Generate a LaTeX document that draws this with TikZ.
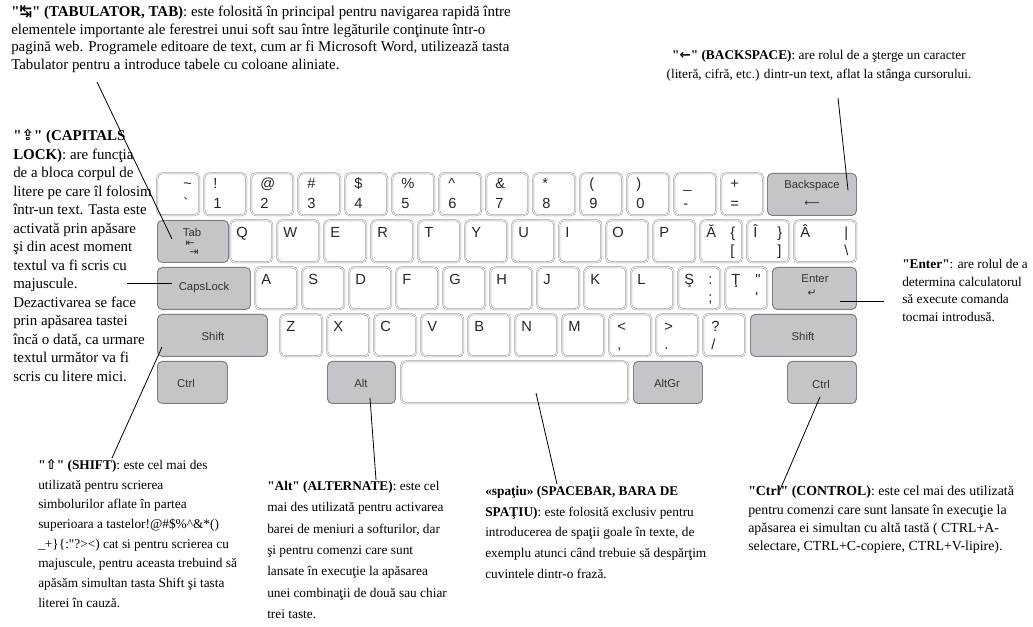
\documentclass[tikz,border=0pt]{standalone}
\usepackage{fontspec}
\setmainfont{Liberation Serif}
\newfontfamily\keyfont{Liberation Sans}
\newfontfamily\symfont{DejaVu Sans}
\definecolor{keygray}{RGB}{196,196,201}
\definecolor{keyedge}{RGB}{125,125,130}
\definecolor{wedge}{RGB}{150,150,150}
\newcommand\qq{\textquotedbl}
\tikzset{
  keybase/.style={rectangle, rounded corners=3.5pt, anchor=north west, inner sep=0pt, minimum height=31.5pt},
  wkey/.style={keybase, minimum width=#1*0.75pt, fill=white, draw=wedge, double=white, double distance=0.6pt, line width=0.4pt},
  wkey/.default=42,
  gkey/.style={keybase, minimum width=#1*0.75pt, fill=keygray, draw=keyedge, line width=0.7pt},
  klab/.style={anchor=base west, inner sep=0pt, font=\keyfont\fontsize{11}{12}\selectfont, text=black!85},
  glab/.style={inner sep=0pt, font=\keyfont\fontsize{8.5}{9}\selectfont, text=black!80},
  glabsym/.style={inner sep=0pt, font=\symfont\fontsize{8}{8}\selectfont, text=black!80},
  desc/.style={anchor=north west, inner sep=0pt, align=left, font=\fontsize{10}{14}\selectfont},
  conn/.style={draw=black, line width=0.6pt},
}
\newcommand\kbnum[5][9]{\node[wkey] (#2) at (#3,173) {};
  \node[klab] (#2-u) at (#3+#1,188.5) {#4};
  \node[klab] (#2-l) at (#3+#1,209) {#5};}
\newcommand\kblet[4]{\node[wkey] (#1) at (#2,#3) {};
  \node[klab] (#1-u) at (#2+6,#3+17.5) {#4};}
\newcommand\kbdual[7]{\node[wkey=#4] (#1) at (#2,#3) {};
  \node[klab] (#1-u) at (#2+6,#3+17.5) {#5};
  \node[klab] (#1-r) at (#2+#4-12,#3+17.5) {#6};
  \node[klab] (#1-l) at (#2+#4-12,#3+36) {#7};}
\newcommand\kbsym[5]{\node[wkey] (#1) at (#2,#3) {};
  \node[klab] (#1-u) at (#2+8,#3+17.5) {#4};
  \node[klab] (#1-l) at (#2+8,#3+36) {#5};}
\begin{document}
\begin{tikzpicture}[x=0.75pt,y=-0.75pt]
\useasboundingbox (0,0) rectangle (1033,627);
\fill[white] (0,0) rectangle (1033,627);

% ---- row 1
\kbnum[26]{k1a}{157}{\textasciitilde}{\textasciigrave}
\kbnum{k1b}{204}{!}{1}
\kbnum{k1c}{251}{@}{2}
\kbnum{k1d}{298}{\#}{3}
\kbnum{k1e}{345}{\$}{4}
\kbnum{k1f}{392}{\%}{5}
\kbnum{k1g}{439}{\textasciicircum}{6}
\kbnum{k1h}{486}{\&}{7}
\kbnum{k1i}{533}{*}{8}
\kbnum{k1j}{580}{(}{9}
\kbnum{k1k}{627}{)}{0}
\kbnum{k1l}{674}{\_}{-}
\kbnum{k1m}{721}{+}{=}
\node[gkey=89] (bksp) at (767,173) {};
\node[glab] (bksp-t) at (812,186) {Backspace};
\node[glabsym] (bksp-a) at (812,204) {⟵};

% ---- row 2
\node[gkey=71] (tab) at (157,220) {};
\node[glab] (tab-t) at (192,232) {Tab};
\node[glabsym] (tab-a) at (190,244) {⇤};
\node[glabsym] (tab-b) at (194,253) {⇥};
\kblet{kq}{230}{220}{Q}
\kblet{kw}{277}{220}{W}
\kblet{ke}{324}{220}{E}
\kblet{kr}{371}{220}{R}
\kblet{kt}{418}{220}{T}
\kblet{ky}{465}{220}{Y}
\kblet{ku}{512}{220}{U}
\kblet{ki}{559}{220}{I}
\kblet{ko}{606}{220}{O}
\kblet{kp}{653}{220}{P}
\kbdual{kab}{700}{220}{42}{Ă}{\{}{[}
\kbdual{kic}{747}{220}{42}{Î}{\}}{]}
\kbdual{kac}{794}{220}{62}{Â}{|}{\textbackslash}

% ---- row 3
\node[gkey=93] (caps) at (157,267) {};
\node[glab] (caps-t) at (204,288) {CapsLock};
\kblet{ka}{255}{267}{A}
\kblet{ks}{302}{267}{S}
\kblet{kd}{349}{267}{D}
\kblet{kf}{396}{267}{F}
\kblet{kg}{443}{267}{G}
\kblet{kh}{490}{267}{H}
\kblet{kj}{537}{267}{J}
\kblet{kk}{584}{267}{K}
\kblet{kl}{631}{267}{L}
\kbdual{ksc}{678}{267}{42}{Ş}{:}{;}
\kbdual{ktc}{725}{267}{42}{Ţ}{\qq}{\textquotesingle}
\node[gkey=84] (enter) at (772,267) {};
\node[glab] (enter-t) at (815,279) {Enter};
\node[glabsym] (enter-a) at (812,293) {↵};

% ---- row 4
\node[gkey=110] (lshift) at (157,314) {};
\node[glab] (lshift-t) at (213,336) {Shift};
\kblet{kz}{280}{314}{Z}
\kblet{kx}{327}{314}{X}
\kblet{kc}{374}{314}{C}
\kblet{kv}{421}{314}{V}
\kblet{kb}{468}{314}{B}
\kblet{kn}{515}{314}{N}
\kblet{km}{562}{314}{M}
\kbsym{klt}{609}{314}{<}{,}
\kbsym{kgt}{656}{314}{>}{.}
\kbsym{kqm}{703}{314}{?}{/}
\node[gkey=106] (rshift) at (750,314) {};
\node[glab] (rshift-t) at (803,336) {Shift};

% ---- row 5
\node[gkey=70] (lctrl) at (157,361) {};
\node[glab] (lctrl-t) at (186,383) {Ctrl};
\node[gkey=68] (alt) at (327,361) {};
\node[glab] (alt-t) at (361,383) {Alt};
\node[wkey=227] (space) at (401,361) {};
\node[gkey=69] (altgr) at (633,361) {};
\node[glab] (altgr-t) at (667,383) {AltGr};
\node[gkey=69] (rctrl) at (787,361) {};
\node[glab] (rctrl-t) at (821,384) {Ctrl};

% ---- descriptions
\node[desc, font=\fontsize{11.2}{13.4}\selectfont] (ttab) at (11,5) {\textbf{\qq{\symfont ↹}\qq{} (TABULATOR, TAB)}: este folosită în principal pentru navigarea rapidă între\\
elementele importante ale ferestrei unui soft sau între legăturile conţinute într-o\\
pagină web. Programele editoare de text, cum ar fi Microsoft Word, utilizează tasta\\
Tabulator pentru a introduce tabele cu coloane aliniate.};

\node[desc, anchor=north, align=center] (tbksp) at (819,50) {\textbf{\qq{\symfont ←}\qq{} (BACKSPACE)}: are rolul de a şterge un caracter\\
(literă, cifră, etc.) dintr-un text, aflat la stânga cursorului.};

\node[desc, font=\fontsize{11.2}{13.9}\selectfont] (tcaps) at (13,129) {\textbf{\qq{\symfont ⇪}\qq{} (CAPITALS}\\
\textbf{LOCK)}: are funcţia\\
de a bloca corpul de\\
litere pe care îl folosim\\
într-un text. Tasta este\\
activată prin apăsare\\
şi din acest moment\\
textul va fi scris cu\\
majuscule.\\
Dezactivarea se face\\
prin apăsarea tastei\\
încă o dată, ca urmare\\
textul următor va fi\\
scris cu litere mici.};

\node[desc, font=\fontsize{10}{13.2}\selectfont] (tenter) at (902,259) {\textbf{\qq{}Enter\qq}: are rolul de a\\
determina calculatorul\\
să execute comanda\\
tocmai introdusă.};

\node[desc, font=\fontsize{10}{14.8}\selectfont] (tshift) at (38,459) {\textbf{\qq{\symfont ⇧}\qq{} (SHIFT)}: este cel mai des\\
utilizată pentru scrierea\\
simbolurilor aflate în partea\\
superioara a tastelor!@\#\$\%\textasciicircum\&*()\\
\_+\}\{:\qq?><) cat si pentru scrierea cu\\
majuscule, pentru aceasta trebuind să\\
apăsăm simultan tasta Shift şi tasta\\
literei în cauză.};

\node[desc, font=\fontsize{10}{16}\selectfont] (talt) at (267,481) {\textbf{\qq{}Alt\qq{} (ALTERNATE)}: este cel\\
mai des utilizată pentru activarea\\
barei de meniuri a softurilor, dar\\
şi pentru comenzi care sunt\\
lansate în execuţie la apăsarea\\
unei combinaţii de două sau chiar\\
trei taste.};

\node[desc, font=\fontsize{10}{15.5}\selectfont] (tspace) at (485,486) {\textbf{«spaţiu» (SPACEBAR, BARA DE}\\
\textbf{SPAŢIU)}: este folosită exclusiv pentru\\
introducerea de spaţii goale în texte, de\\
exemplu atunci când trebuie să despărţim\\
cuvintele dintr-o frază.};

\node[desc, font=\fontsize{10.4}{13.6}\selectfont] (tctrl) at (748,486) {\textbf{\qq{}Ctrl\qq{} (CONTROL)}: este cel mai des utilizată\\
pentru comenzi care sunt lansate în execuţie la\\
apăsarea ei simultan cu altă tastă ( CTRL+A-\\
selectare, CTRL+C-copiere, CTRL+V-lipire).};

% ---- connectors
\coordinate (ctab) at (97,82);
\draw[conn] (ctab) -- ([shift={(15,19)}]tab.north west);
\coordinate (cbk) at (838,98);
\draw[conn] (cbk) -- ([shift={(81,17)}]bksp.north west);
\coordinate (ccaps) at (127,283);
\draw[conn] (ccaps) -- ([shift={(15,16)}]caps.north west);
\coordinate (centr) at (884,301);
\draw[conn] (centr) -- ([shift={(68,34)}]enter.north west);
\coordinate (cshift) at (112,458);
\draw[conn] (cshift) -- ([shift={(5,33)}]lshift.north west);
\coordinate (calt) at (376,480);
\draw[conn] (calt) -- ([shift={(43,37)}]alt.north west);
\coordinate (cspace) at (557,484);
\draw[conn] (cspace) -- ([shift={(135,32)}]space.north west);
\coordinate (cctrl) at (780,490);
\draw[conn] (cctrl) -- ([shift={(33,36)}]rctrl.north west);
\end{tikzpicture}
\end{document}
